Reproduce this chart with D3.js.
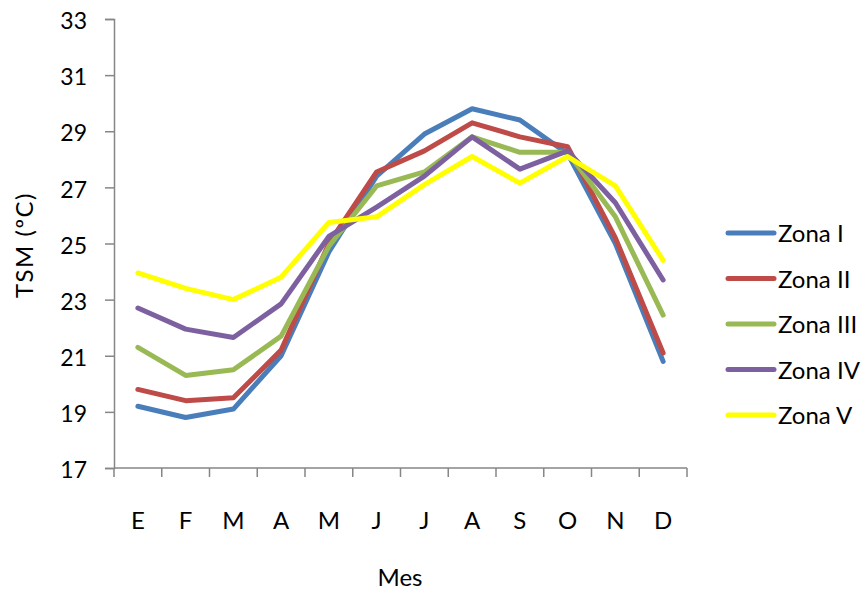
<!DOCTYPE html>
<html>
<head>
<meta charset="utf-8">
<script src="https://cdn.jsdelivr.net/npm/d3@7/dist/d3.min.js"></script>
<style>
  html, body { margin: 0; padding: 0; background: #fff; }
  svg text { font-family: Lato, "Open Sans", sans-serif; fill: #000; }
</style>
</head>
<body>
<svg id="chart" width="865" height="592"></svg>
<script>
// Monthly sea surface temperature (TSM) by zone
const months = ["E", "F", "M", "A", "M", "J", "J", "A", "S", "O", "N", "D"];
const zoneNames = ["Zona I", "Zona II", "Zona III", "Zona IV", "Zona V"];
const zoneColors = ["#4A7EBB", "#BE4B48", "#98B954", "#7D60A0", "#FFFF00"];
const zonaI   = [19.2, 18.8, 19.1, 21.0, 24.7, 27.4, 28.9, 29.8, 29.4, 28.2, 25.0, 20.8];
const zonaII  = [19.8, 19.4, 19.5, 21.2, 25.0, 27.55, 28.3, 29.3, 28.8, 28.45, 25.2, 21.1];
const zonaIII = [21.3, 20.3, 20.5, 21.7, 24.9, 27.05, 27.55, 28.8, 28.25, 28.25, 25.95, 22.45];
const zonaIV  = [22.7, 21.95, 21.65, 22.85, 25.25, 26.3, 27.4, 28.8, 27.65, 28.3, 26.45, 23.7];
const zonaV   = [23.95, 23.4, 23.0, 23.8, 25.75, 25.95, 27.1, 28.1, 27.15, 28.1, 27.05, 24.4];
const yTicks = [17, 19, 21, 23, 25, 27, 29, 31, 33];

const series = [zonaI, zonaII, zonaIII, zonaIV, zonaV];

const svg = d3.select("#chart");
const plot = { left: 114, right: 687, top: 19, bottom: 468 };

const x = d3.scaleBand()
  .domain(d3.range(months.length))
  .range([plot.left, plot.right])
  .paddingInner(0).paddingOuter(0);

const y = d3.scaleLinear()
  .domain([17, 33])
  .range([plot.bottom, plot.top]);

const axisColor = "#868686";

// Y axis
const yAxis = svg.append("g")
  .attr("transform", `translate(${plot.left},0)`)
  .call(d3.axisLeft(y).tickValues(yTicks).tickSize(9).tickPadding(18).tickFormat(d3.format("d")));
yAxis.select(".domain").attr("stroke", axisColor).attr("stroke-width", 1.5);
yAxis.selectAll(".tick line").attr("stroke", axisColor).attr("stroke-width", 1.5);
yAxis.selectAll(".tick text")
  .attr("font-size", 23)
  .attr("font-family", "Lato, sans-serif")
  .attr("fill", "#000")
  .attr("dy", "0.42em");

// X axis with ticks on category boundaries
const xAxisG = svg.append("g").attr("transform", `translate(0,${plot.bottom})`);
xAxisG.append("line")
  .attr("x1", plot.left).attr("x2", plot.right)
  .attr("stroke", axisColor).attr("stroke-width", 1.5);
xAxisG.selectAll("line.tick")
  .data(d3.range(months.length + 1))
  .join("line")
  .attr("class", "tick")
  .attr("x1", i => plot.left + i * x.step())
  .attr("x2", i => plot.left + i * x.step())
  .attr("y1", 0).attr("y2", 9)
  .attr("stroke", axisColor).attr("stroke-width", 1.5);
xAxisG.selectAll("text")
  .data(months)
  .join("text")
  .attr("x", (d, i) => x(i) + x.bandwidth() / 2)
  .attr("y", 61)
  .attr("text-anchor", "middle")
  .attr("font-size", 24)
  .text(d => d);

// Axis titles
svg.append("text")
  .attr("transform", "translate(33,245) rotate(-90)")
  .attr("text-anchor", "middle")
  .attr("font-size", 24)
  .attr("letter-spacing", 1.5)
  .text("TSM (ºC)");
svg.append("text")
  .attr("x", 400).attr("y", 586)
  .attr("text-anchor", "middle")
  .attr("font-size", 24)
  .text("Mes");

// Lines
const line = d3.line()
  .x((d, i) => x(i) + x.bandwidth() / 2)
  .y(d => y(d));

svg.append("g")
  .selectAll("path")
  .data(series)
  .join("path")
  .attr("d", d => line(d))
  .attr("fill", "none")
  .attr("stroke", (d, i) => zoneColors[i])
  .attr("stroke-width", 5)
  .attr("stroke-linejoin", "round")
  .attr("stroke-linecap", "round");

// Legend
const legend = svg.append("g");
const legendY = d3.scalePoint().domain(zoneNames).range([233, 415]);
zoneNames.forEach((name, i) => {
  const g = legend.append("g").attr("transform", `translate(0,${legendY(name)})`);
  g.append("line")
    .attr("x1", 728).attr("x2", 774)
    .attr("stroke", zoneColors[i]).attr("stroke-width", 5)
    .attr("stroke-linecap", "round");
  g.append("text")
    .attr("x", 778).attr("y", 9)
    .attr("font-size", 24)
    .text(name);
});
</script>
</body>
</html>
